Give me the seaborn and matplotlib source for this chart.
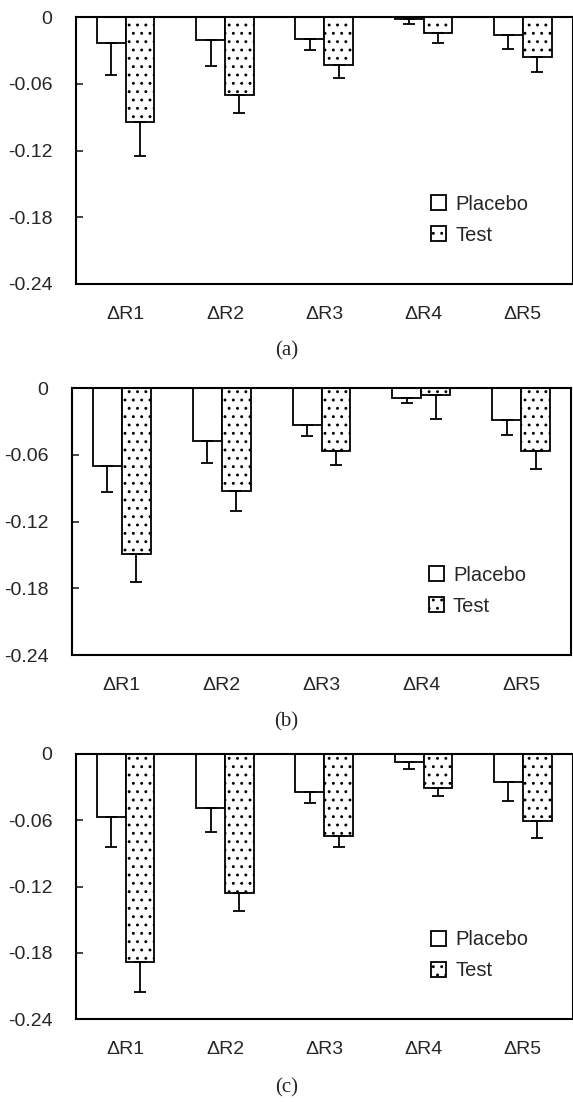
import numpy as np
import pandas as pd
import matplotlib
matplotlib.use("Agg")
import matplotlib.pyplot as plt
import seaborn as sns

# 数据：三个面板的均值与误差
params = ["ΔR1", "ΔR2", "ΔR3", "ΔR4", "ΔR5"]
groups = ["Placebo", "Test"]
captions = ["(a)", "(b)", "(c)"]
yticks = [0, -0.06, -0.12, -0.18, -0.24]
ytick_labels = ["0", "-0.06", "-0.12", "-0.18", "-0.24"]

placebo_a = [-0.023, -0.021, -0.0195, -0.0015, -0.016]
placebo_a_err = [0.029, 0.023, 0.0105, 0.0045, 0.013]
test_a = [-0.0945, -0.0705, -0.043, -0.0144, -0.036]
test_a_err = [0.030, 0.016, 0.012, 0.009, 0.013]

placebo_b = [-0.0697, -0.0478, -0.033, -0.0093, -0.029]
placebo_b_err = [0.024, 0.020, 0.0105, 0.0042, 0.0135]
test_b = [-0.149, -0.0928, -0.0568, -0.0066, -0.057]
test_b_err = [0.025, 0.018, 0.012, 0.021, 0.0157]

placebo_c = [-0.0573, -0.049, -0.0344, -0.0069, -0.0256]
placebo_c_err = [0.0265, 0.022, 0.010, 0.007, 0.0166]
test_c = [-0.1884, -0.126, -0.0742, -0.0305, -0.0609]
test_c_err = [0.027, 0.016, 0.010, 0.0075, 0.0148]

panels = [
    (placebo_a, placebo_a_err, test_a, test_a_err),
    (placebo_b, placebo_b_err, test_b, test_b_err),
    (placebo_c, placebo_c_err, test_c, test_c_err),
]

sns.set_style("ticks")
plt.rcParams["font.family"] = ["Liberation Sans", "DejaVu Sans"]
plt.rcParams["hatch.linewidth"] = 0.9
plt.rcParams["hatch.color"] = "black"

fig = plt.figure(figsize=(5.73, 11.02), dpi=100)
W, H = 573.0, 1102.0

# 轴的位置（像素：左、上、右、下）
boxes = [(76, 17, 572.5, 284), (72, 388, 571, 655), (76, 754, 572.5, 1019)]
caption_y = [351, 722, 1088]

for (pl, pl_err, te, te_err), box, cap, cy in zip(panels, boxes, captions, caption_y):
    l, t, r, b = box
    ax = fig.add_axes([l / W, 1 - b / H, (r - l) / W, (b - t) / H])

    df = pd.DataFrame({
        "param": params * 2,
        "group": [groups[0]] * len(params) + [groups[1]] * len(params),
        "value": pl + te,
    })
    sns.barplot(data=df, x="param", y="value", hue="group", order=params,
                hue_order=groups, palette=["white", "white"], edgecolor="black",
                linewidth=1.3, width=0.58, errorbar=None, legend=False, ax=ax)

    # 给 Test 组加点状填充
    for patch in ax.containers[1]:
        patch.set_hatch("..")

    # 单侧误差线（向下）
    for cont, errs in zip(ax.containers, [pl_err, te_err]):
        for bar, e in zip(cont, errs):
            xc = bar.get_x() + bar.get_width() / 2
            yv = bar.get_height()
            ax.errorbar(xc, yv, yerr=[[e], [0]], color="black", elinewidth=1.3,
                        capsize=4, capthick=1.3, fmt="none")

    ax.set_ylim(-0.24, 0)
    ax.set_xlim(-0.5, len(params) - 0.5)
    ax.set_yticks(yticks)
    ax.set_yticklabels(ytick_labels)
    ax.set_xlabel("")
    ax.set_ylabel("")
    ax.tick_params(axis="y", direction="in", length=5, width=1.2, pad=17, labelsize=14)
    ax.tick_params(axis="x", length=0, pad=16, labelsize=14)
    for sp in ax.spines.values():
        sp.set_visible(True)
        sp.set_linewidth(1.5)
        sp.set_color("black")

    ax.legend(handles=[ax.containers[0][0], ax.containers[1][0]], labels=groups,
              loc="upper left", bbox_to_anchor=(0.715, 0.335), frameon=False,
              fontsize=14.5, handlelength=0.75, handleheight=0.75,
              handletextpad=0.45, labelspacing=0.6, borderpad=0, borderaxespad=0)

    fig.text(0.5, 1 - cy / H, cap, ha="center", va="center",
             family=["Liberation Serif", "DejaVu Serif"], fontsize=15)

fig.savefig("out.png", dpi=100)
